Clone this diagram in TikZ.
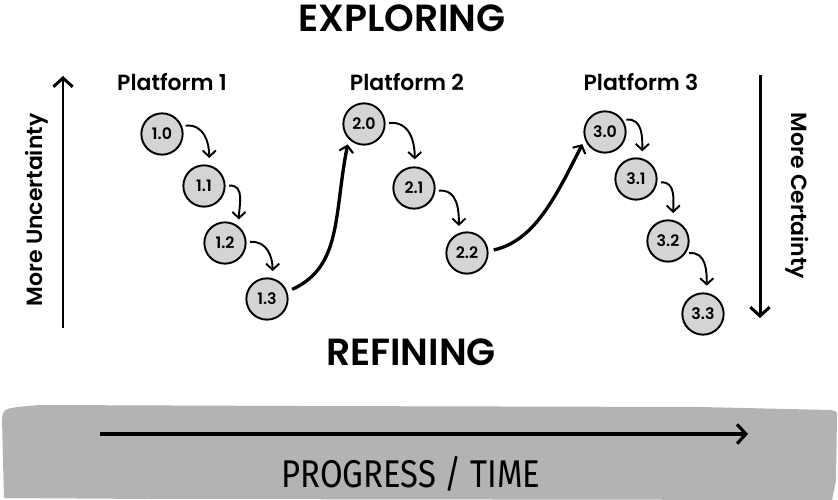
\documentclass[tikz,border=0pt]{standalone}
\usepackage{fontspec}
\setmainfont{Poppins}[BoldFont={Poppins SemiBold}]
\newfontfamily\handfont{Fira Sans}
\usepackage{tikz}
\usetikzlibrary{arrows.meta,calc}
\definecolor{nodegray}{HTML}{D4D4D4}
\definecolor{bandgray}{HTML}{B3B3B3}
\tikzstyle{vertex}=[circle,fill=nodegray,draw,line width=1.1pt,minimum size=23.5pt,inner sep=0pt,font=\bfseries\fontsize{9}{9}\selectfont]
\tikzstyle{edge} = [draw,line width=1.1pt,-{Straight Barb[length=3.5pt,width=7.5pt]},shorten <=2pt,shorten >=4pt]
\tikzstyle{jump} = [draw,line width=1.9pt,-{Straight Barb[length=3.5pt,width=8pt,line width=1.2pt]},shorten <=3pt,shorten >=3pt]
\tikzstyle{axis} = [draw,line width=1.7pt,-{Straight Barb[length=5pt,width=11pt]}]
\tikzstyle{heading} = [font=\bfseries\fontsize{12.5}{14}\selectfont]
\tikzstyle{title} = [font=\bfseries\fontsize{21.5}{24}\selectfont]
\tikzstyle{side} = [font=\bfseries\fontsize{12.5}{14}\selectfont]

\begin{document}
\begin{tikzpicture}[x=0.02cm,y=0.02cm]

    \useasboundingbox (0,0) rectangle (838,500);

    % progress band at the bottom
    \fill[bandgray] (4,2) -- (2,80) .. controls (3,92) .. (40,95) -- (300,94) -- (700,93)
        -- (830,90) .. controls (837,89) .. (837,84) -- (836,20) -- (832,0) -- (150,1) -- cycle;
    \coordinate (t0) at (100,66);
    \coordinate (t1) at (748,66);
    \draw[axis,line width=1.8pt] (t0) -- (t1);
    \node (progress) at (411,26) {\handfont\fontsize{22}{24}\selectfont\scalebox{0.85}[1]{PROGRESS / TIME}};

    \node[title] (explore) at (402,482) {EXPLORING};
    \node[title] (refine) at (411,148) {REFINING};

    \foreach \pos/ \name / \label in {{(172,418)/p1/Platform 1}, {(407,418)/p2/Platform 2}, {(641,418)/p3/Platform 3}}
        \node[heading] (\name) at \pos {\label};

    % certainty axes
    \coordinate (u0) at (63,172);
    \coordinate (u1) at (63,424);
    \coordinate (c0) at (760,425);
    \coordinate (c1) at (760,182);
    \draw[axis] (u0) -- (u1);
    \draw[axis] (c0) -- (c1);
    \node[side,rotate=90] (unc) at (37,290) {More Uncertainty};
    \node[side,rotate=-90] (cert) at (797,304) {More Certainty};

    \foreach \pos/ \name / \label in {{(162,366)/n10/1.0}, {(204,314)/n11/1.1}, {(225,257)/n12/1.2}, {(267,201)/n13/1.3},
                                     {(364,376)/n20/2.0}, {(414,312)/n21/2.1}, {(467,247)/n22/2.2},
                                     {(605,368)/n30/3.0}, {(636,321)/n31/3.1}, {(668,259)/n32/3.2}, {(703,186)/n33/3.3}}
        \node[vertex] (\name) at \pos {\label};

    % Connect vertices with edges (source anchor / target anchor)
    \foreach \source/ \dest / \sa / \da in {n10/n11/22/76, n11/n12/0/50, n12/n13/2/75, n20/n21/2/88, n21/n22/-8/112,
                                            n30/n31/34/73, n31/n32/-10/76, n32/n33/-35/80}
        \draw[edge] (\source.\sa) to[out=5,in=90,looseness=1.2] (\dest.\da);

    \draw[jump] (n13.20) .. controls +(55,25) and +(-15,-75) .. (n20.225);
    \draw[jump] (n22.5) .. controls +(45,10) and +(-30,-60) .. (n30.200);

\end{tikzpicture}
\end{document}
